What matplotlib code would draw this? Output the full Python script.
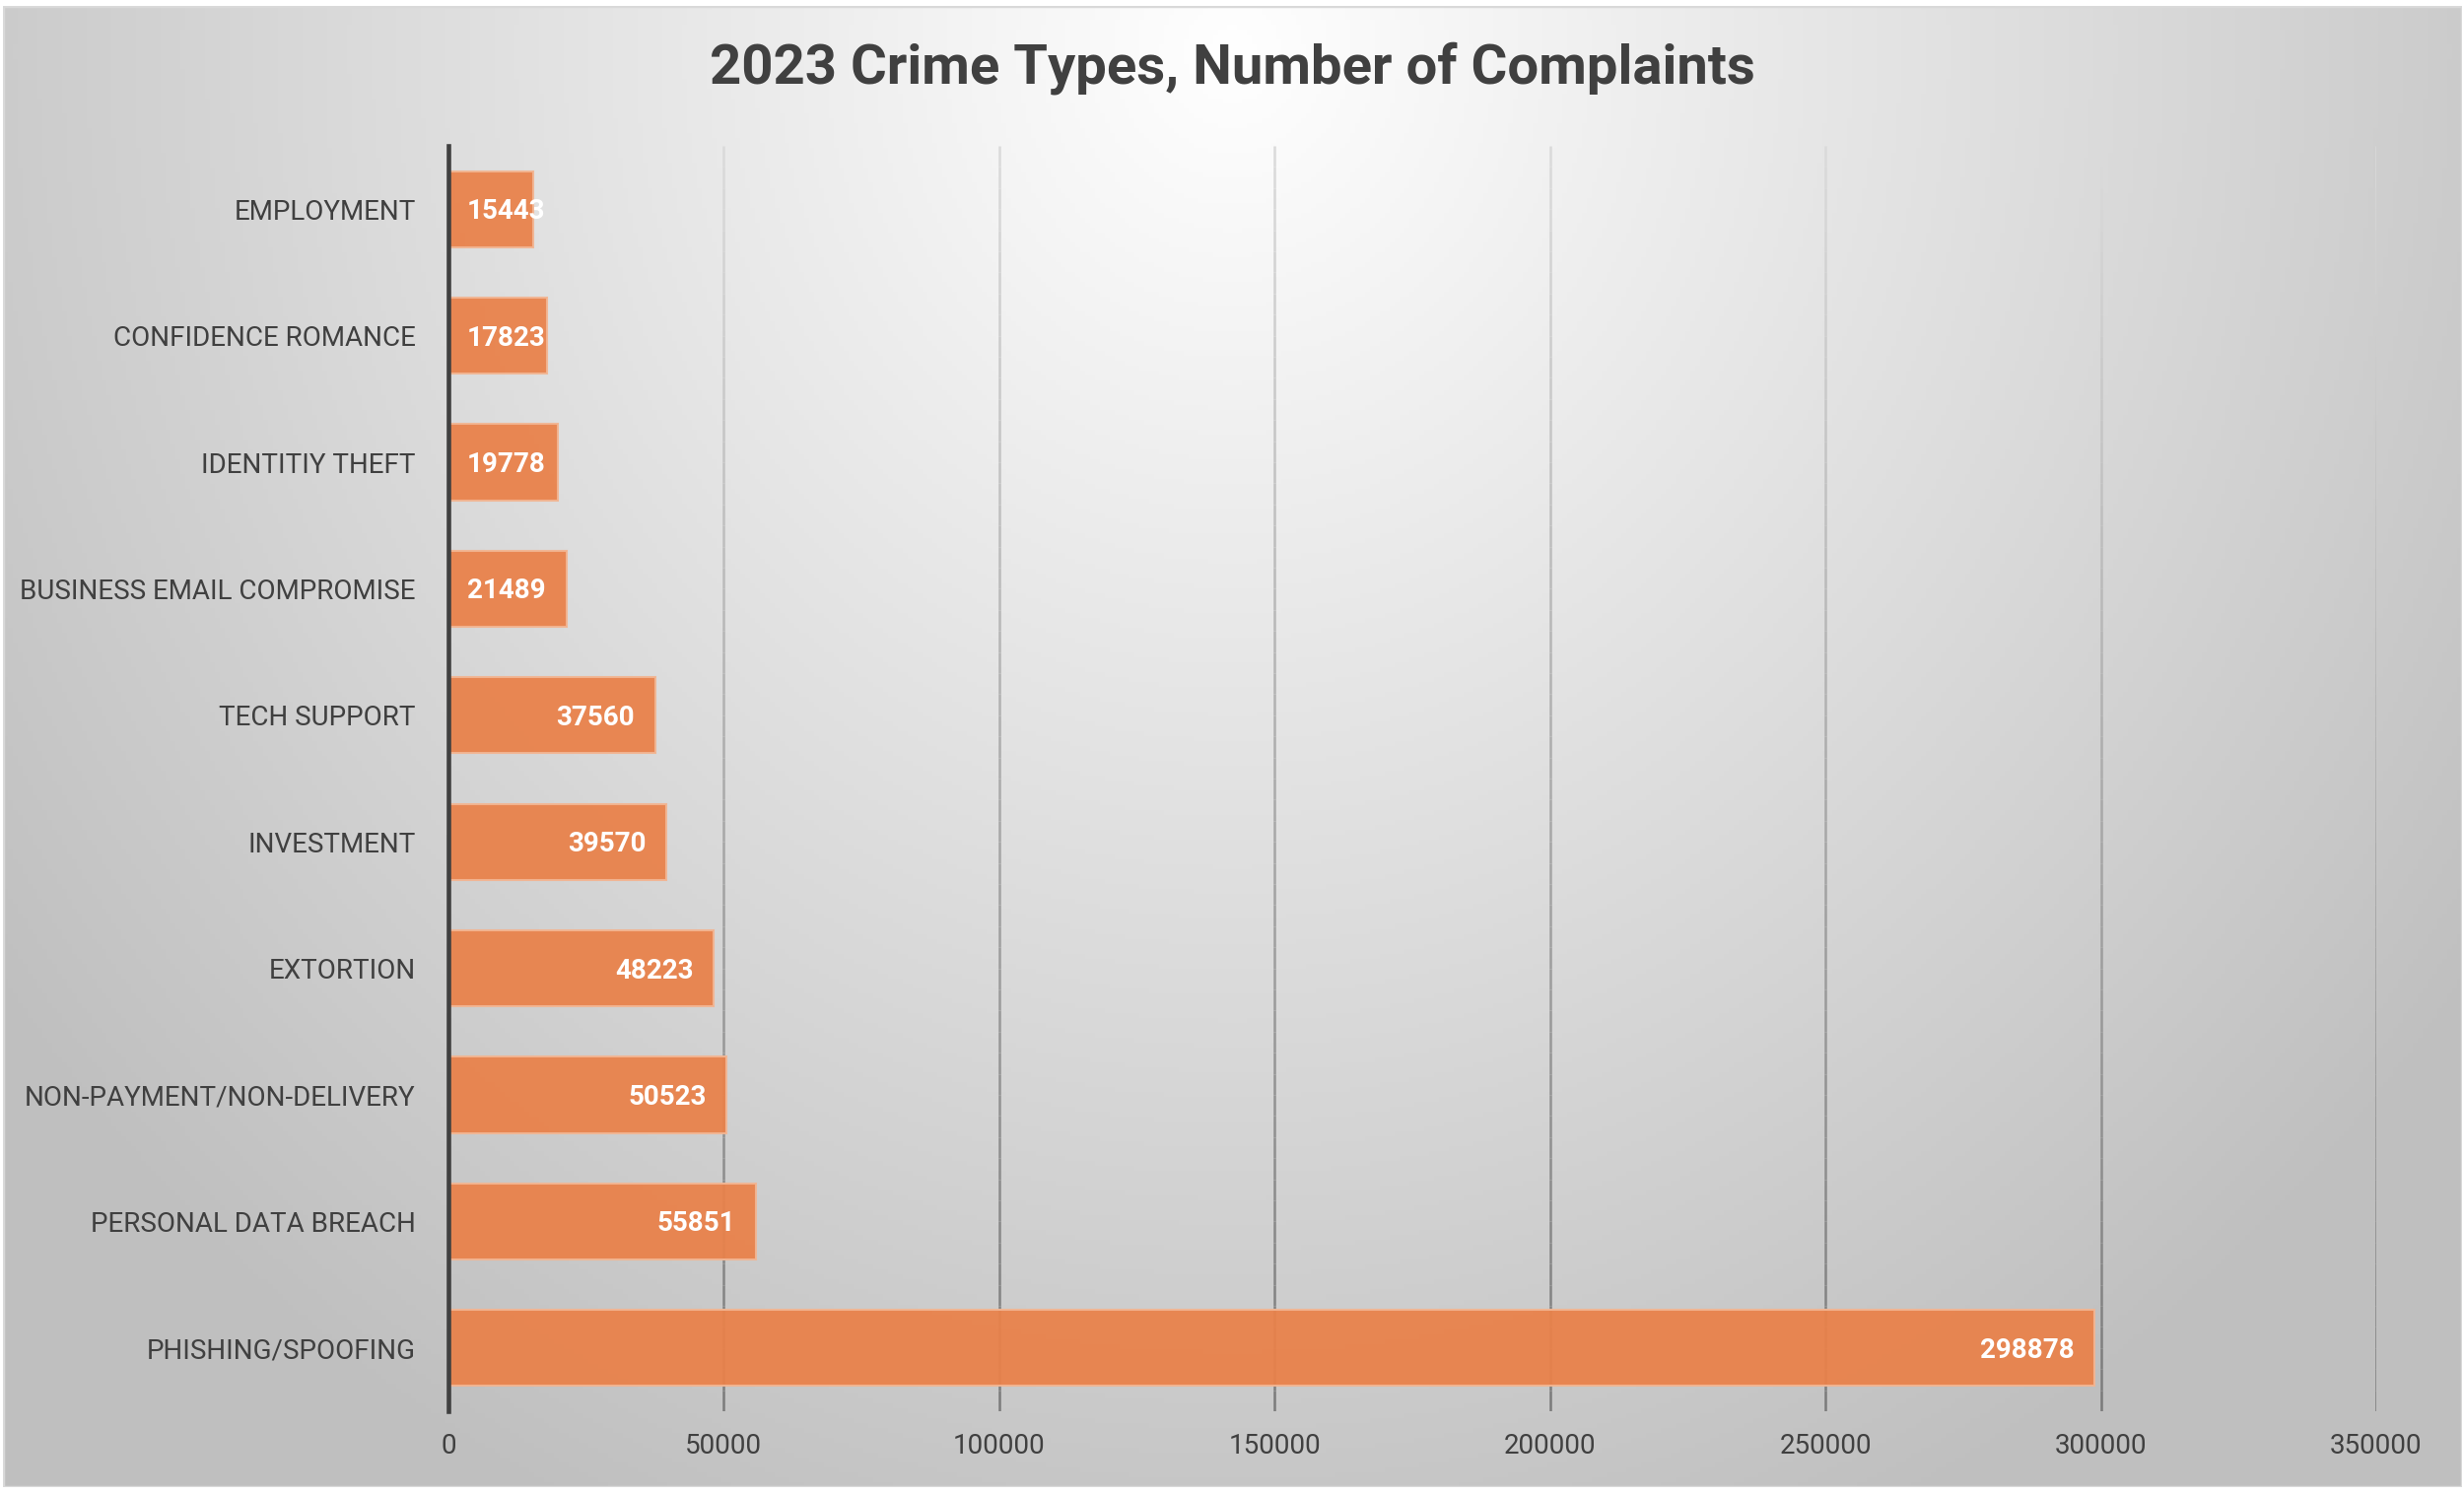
import numpy as np
import matplotlib.pyplot as plt
from matplotlib.collections import LineCollection
from matplotlib.patches import Rectangle

# Data (bottom to top)
categories = ['PHISHING/SPOOFING', 'PERSONAL DATA BREACH', 'NON-PAYMENT/NON-DELIVERY',
              'EXTORTION', 'INVESTMENT', 'TECH SUPPORT', 'BUSINESS EMAIL COMPROMISE',
              'IDENTITIY THEFT', 'CONFIDENCE ROMANCE', 'EMPLOYMENT']
complaints = [298878, 55851, 50523, 48223, 39570, 37560, 21489, 19778, 17823, 15443]
x_ticks = [0, 50000, 100000, 150000, 200000, 250000, 300000, 350000]

plt.rcParams['font.family'] = ['Roboto', 'DejaVu Sans']
text_color = '#404040'
bar_color = '#E9824B'

fig = plt.figure(figsize=(25, 15.17), dpi=100)
fig.patch.set_facecolor('white')

# Background with radial gradient
bg = fig.add_axes([0.001, 0.005, 0.998, 0.991])
bg.set_axis_off()
gx, gy = np.meshgrid(np.linspace(0, 1, 500), np.linspace(0, 1, 300))
t = np.sqrt(((gx - 0.5) / 0.62) ** 2 + ((gy - 0.97) / 1.1) ** 2)
shade = 1.0 - 0.25 * np.clip(t, 0, 1)
bg.imshow(np.dstack([shade] * 3), origin='lower', extent=[0, 1, 0, 1], aspect='auto')
bg.add_patch(Rectangle((0, 0), 1, 1, fill=False, edgecolor='#d9d9d9', lw=2.5,
                       transform=bg.transAxes))
bg.set_xlim(0, 1)
bg.set_ylim(0, 1)

ax = fig.add_axes([455 / 2500, 1 - 1432 / 1517, (2411 - 455) / 2500, (1432 - 148) / 1517])
ax.patch.set_alpha(0)
ax.set_xlim(0, 350000)
ax.set_ylim(-0.5, len(categories) - 0.5)

# Gradient gridlines: light at top, darker at bottom
n = 60
ys = np.linspace(-0.5, len(categories) - 0.5, n + 1)
c_top = np.array([0.86, 0.86, 0.86])
c_bot = np.array([0.48, 0.48, 0.48])
for xv in x_ticks[1:]:
    segs = [[(xv, ys[i]), (xv, ys[i + 1])] for i in range(n)]
    fr = (np.arange(n) + 0.5) / n
    cols = [tuple(c_bot + (c_top - c_bot) * f) for f in fr]
    ax.add_collection(LineCollection(segs, colors=cols, linewidths=1.8, zorder=1))

y = np.arange(len(categories))
ax.barh(y, complaints, height=0.6, color=bar_color, alpha=0.95,
        edgecolor='#F2B592', linewidth=1.5, zorder=2)

# Value labels (inside end, pinned to the axis when the bar is too short)
for yi, v in zip(y, complaints):
    if v < 30000:
        ax.text(3400, yi - 0.02, str(v), ha='left', va='center', color='white',
                fontsize=20, fontweight='bold', zorder=3)
    else:
        ax.text(v - 3700, yi - 0.02, str(v), ha='right', va='center', color='white',
                fontsize=20, fontweight='bold', zorder=3)

ax.set_yticks(y)
ax.set_yticklabels(categories, fontsize=20, color=text_color)
ax.set_xticks(x_ticks)
ax.set_xticklabels([str(v) for v in x_ticks], fontsize=20, color=text_color)
ax.tick_params(axis='y', length=0, pad=24)
ax.tick_params(axis='x', length=0, pad=16)
for s in ['top', 'right', 'bottom']:
    ax.spines[s].set_visible(False)
ax.spines['left'].set_color(text_color)
ax.spines['left'].set_linewidth(3.3)
ax.spines['left'].set_zorder(4)

fig.text(0.5, 1 - 69 / 1517, '2023 Crime Types, Number of Complaints', ha='center',
         va='center', fontsize=40.5, fontweight='bold', color=text_color)

fig.savefig('out.png', dpi=100)
